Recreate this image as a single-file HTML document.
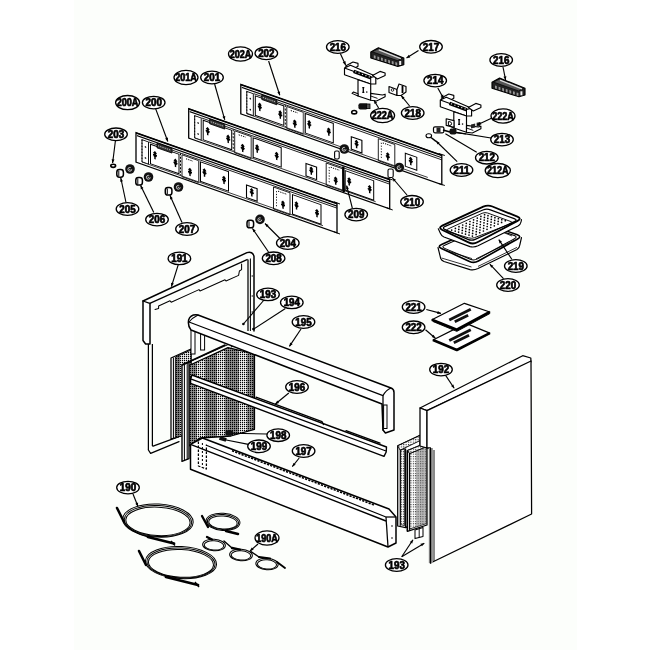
<!DOCTYPE html>
<html><head><meta charset="utf-8"><title>Parts diagram</title>
<style>
html,body{margin:0;padding:0;background:#fff;}
svg{display:block}
.gs{filter:grayscale(1)}
.lb{font-family:"Liberation Sans",sans-serif;font-weight:bold;font-size:10.4px;fill:#000;stroke:#000;stroke-width:0.7px;stroke-linejoin:round;}
.t{font-family:"Liberation Sans",sans-serif;fill:#000;}
</style></head><body>
<svg width="650" height="650" viewBox="0 0 650 650">
<defs>
<pattern id="mesh" width="2" height="2" patternUnits="userSpaceOnUse"><rect width="2" height="2" fill="#fff"/><rect width="1.2" height="1.25" fill="#000"/></pattern>
<pattern id="mesh2" width="2.4" height="2.4" patternUnits="userSpaceOnUse"><rect width="2.4" height="2.4" fill="#fff"/><rect width="1.1" height="1.1" fill="#222"/></pattern>
<pattern id="dots" width="3.6" height="2.7" patternUnits="userSpaceOnUse" patternTransform="rotate(-25) skewX(-40)"><rect width="3.6" height="2.7" fill="#fff"/><rect x="1" y="0.8" width="1.5" height="1.3" fill="#000"/></pattern>
<clipPath id="meshclip"><polygon points="189,365.5 228,347.6 254.4,354 254.4,429.4 231,436 200,438 189,446"/></clipPath>
</defs>
<rect width="650" height="650" fill="#fff"/><rect x="74" y="0" width="503" height="650" fill="#fcfefb"/>
<g transform="matrix(1,0.352,0,1,240.8,84.3)">
<rect x="0" y="0" width="201" height="29.5" fill="#fff" stroke="#000" stroke-width="1.3"/>
<line x1="0" y1="0.4" x2="201" y2="0.4" stroke="#000" stroke-width="1.4"/>
<line x1="1" y1="2.7" x2="201" y2="2.7" stroke="#000" stroke-width="1.2"/>
<line x1="13" y1="4.8" x2="201" y2="4.8" stroke="#000" stroke-width="0.8"/>
<line x1="6" y1="27.3" x2="187" y2="27.3" stroke="#000" stroke-width="0.7"/>
<rect x="6" y="5" width="6.5" height="22" fill="#fff" stroke="#000" stroke-width="0.9"/>
<line x1="6" y1="5" x2="6" y2="27" stroke="#000" stroke-width="0.9" stroke-dasharray="1.5,1.5"/>
<circle cx="9.5" cy="11" r="0.8" fill="#000"/><circle cx="9.5" cy="22" r="0.8" fill="#000"/>
<rect x="14.5" y="6.5" width="28.5" height="19.5" fill="none" stroke="#000" stroke-width="1"/>
<rect x="21" y="3.2" width="15" height="4.6" fill="#333" stroke="#000" stroke-width="0.8"/>
<line x1="22" y1="5.4" x2="35" y2="5.4" stroke="#bbb" stroke-width="1" stroke-dasharray="1.2,1"/>
<path d="M19,13.0 V20.0 M17,16.0 H21 M17.6,14.3 L19,12.7 L20.4,14.3" stroke="#000" stroke-width="1.45" fill="none"/>
<rect x="17.7" y="14.8" width="2.6" height="2.8" fill="#000"/>
<path d="M39.5,13.5 V20.5 M37.5,16.5 H41.5 M38.1,14.8 L39.5,13.2 L40.9,14.8" stroke="#000" stroke-width="1.45" fill="none"/>
<rect x="38.2" y="15.3" width="2.6" height="2.8" fill="#000"/>
<line x1="44.5" y1="5" x2="44.5" y2="27" stroke="#000" stroke-width="1" stroke-dasharray="2,1.5"/>
<rect x="46" y="6" width="16.5" height="22" fill="none" stroke="#000" stroke-width="0.8"/>
<line x1="50" y1="8.6" x2="57" y2="8.6" stroke="#000" stroke-width="1" stroke-dasharray="1.2,1"/>
<path d="M54,17.5 V24.5 M52,20.5 H56 M52.6,18.8 L54,17.2 L55.4,18.8" stroke="#000" stroke-width="1.45" fill="none"/>
<rect x="52.7" y="19.3" width="2.6" height="2.8" fill="#000"/>
<line x1="63" y1="5" x2="63" y2="28" stroke="#777" stroke-width="1.2"/>
<rect x="64.5" y="6.5" width="28" height="19.5" fill="none" stroke="#000" stroke-width="1"/>
<path d="M68.5,13.0 V20.0 M66.5,16.0 H70.5 M67.1,14.3 L68.5,12.7 L69.9,14.3" stroke="#000" stroke-width="1.45" fill="none"/>
<rect x="67.2" y="14.8" width="2.6" height="2.8" fill="#000"/>
<path d="M88,13.5 V20.5 M86,16.5 H90 M86.6,14.8 L88,13.2 L89.4,14.8" stroke="#000" stroke-width="1.45" fill="none"/>
<rect x="86.7" y="15.3" width="2.6" height="2.8" fill="#000"/>
<rect x="110.5" y="13.5" width="10.6" height="12.5" fill="none" stroke="#000" stroke-width="1.1"/>
<path d="M115.8,16.1 V23.1 M113.8,19.1 H117.8 M114.39999999999999,17.400000000000002 L115.8,15.8 L117.2,17.400000000000002" stroke="#000" stroke-width="1.45" fill="none"/>
<rect x="114.5" y="17.900000000000002" width="2.6" height="2.8" fill="#000"/>
<rect x="137.5" y="6" width="16.5" height="22" fill="none" stroke="#000" stroke-width="0.8"/>
<line x1="140.5" y1="9" x2="140.5" y2="25" stroke="#000" stroke-width="0.9" stroke-dasharray="1.2,1.6"/>
<line x1="142" y1="8.6" x2="151" y2="8.6" stroke="#000" stroke-width="1" stroke-dasharray="1.2,1"/>
<path d="M147,17.5 V24.5 M145,20.5 H149 M145.6,18.8 L147,17.2 L148.4,18.8" stroke="#000" stroke-width="1.45" fill="none"/>
<rect x="145.7" y="19.3" width="2.6" height="2.8" fill="#000"/>
<rect x="164.5" y="11" width="11.5" height="13" fill="none" stroke="#000" stroke-width="1"/>
<path d="M170,14.0 V21.0 M168,17.0 H172 M168.6,15.3 L170,13.7 L171.4,15.3" stroke="#000" stroke-width="1.45" fill="none"/>
<rect x="168.7" y="15.8" width="2.6" height="2.8" fill="#000"/>
<line x1="198" y1="-0.5" x2="204" y2="-0.5" stroke="#000" stroke-width="1"/>
<line x1="198" y1="29.5" x2="204" y2="29.5" stroke="#000" stroke-width="1"/>
</g>
<g transform="matrix(1,0.352,0,1,188.7,108.6)">
<rect x="0" y="0" width="201" height="29.5" fill="#fff" stroke="#000" stroke-width="1.3"/>
<line x1="0" y1="0.4" x2="201" y2="0.4" stroke="#000" stroke-width="1.4"/>
<line x1="1" y1="2.7" x2="201" y2="2.7" stroke="#000" stroke-width="1.2"/>
<line x1="13" y1="4.8" x2="201" y2="4.8" stroke="#000" stroke-width="0.8"/>
<line x1="6" y1="27.3" x2="187" y2="27.3" stroke="#000" stroke-width="0.7"/>
<rect x="6" y="5" width="6.5" height="22" fill="#fff" stroke="#000" stroke-width="0.9"/>
<line x1="6" y1="5" x2="6" y2="27" stroke="#000" stroke-width="0.9" stroke-dasharray="1.5,1.5"/>
<circle cx="9.5" cy="11" r="0.8" fill="#000"/><circle cx="9.5" cy="22" r="0.8" fill="#000"/>
<rect x="14.5" y="6.5" width="28.5" height="19.5" fill="none" stroke="#000" stroke-width="1"/>
<rect x="21" y="3.2" width="15" height="4.6" fill="#333" stroke="#000" stroke-width="0.8"/>
<line x1="22" y1="5.4" x2="35" y2="5.4" stroke="#bbb" stroke-width="1" stroke-dasharray="1.2,1"/>
<path d="M19,13.0 V20.0 M17,16.0 H21 M17.6,14.3 L19,12.7 L20.4,14.3" stroke="#000" stroke-width="1.45" fill="none"/>
<rect x="17.7" y="14.8" width="2.6" height="2.8" fill="#000"/>
<path d="M39.5,13.5 V20.5 M37.5,16.5 H41.5 M38.1,14.8 L39.5,13.2 L40.9,14.8" stroke="#000" stroke-width="1.45" fill="none"/>
<rect x="38.2" y="15.3" width="2.6" height="2.8" fill="#000"/>
<line x1="44.5" y1="5" x2="44.5" y2="27" stroke="#000" stroke-width="1" stroke-dasharray="2,1.5"/>
<rect x="46" y="6" width="16.5" height="22" fill="none" stroke="#000" stroke-width="0.8"/>
<line x1="50" y1="8.6" x2="57" y2="8.6" stroke="#000" stroke-width="1" stroke-dasharray="1.2,1"/>
<path d="M54,17.5 V24.5 M52,20.5 H56 M52.6,18.8 L54,17.2 L55.4,18.8" stroke="#000" stroke-width="1.45" fill="none"/>
<rect x="52.7" y="19.3" width="2.6" height="2.8" fill="#000"/>
<line x1="63" y1="5" x2="63" y2="28" stroke="#777" stroke-width="1.2"/>
<rect x="64.5" y="6.5" width="28" height="19.5" fill="none" stroke="#000" stroke-width="1"/>
<path d="M68.5,13.0 V20.0 M66.5,16.0 H70.5 M67.1,14.3 L68.5,12.7 L69.9,14.3" stroke="#000" stroke-width="1.45" fill="none"/>
<rect x="67.2" y="14.8" width="2.6" height="2.8" fill="#000"/>
<path d="M88,13.5 V20.5 M86,16.5 H90 M86.6,14.8 L88,13.2 L89.4,14.8" stroke="#000" stroke-width="1.45" fill="none"/>
<rect x="86.7" y="15.3" width="2.6" height="2.8" fill="#000"/>
<rect x="117.3" y="13.5" width="10.6" height="12.5" fill="none" stroke="#000" stroke-width="1.1"/>
<path d="M122.6,16.1 V23.1 M120.6,19.1 H124.6 M121.19999999999999,17.400000000000002 L122.6,15.8 L124.0,17.400000000000002" stroke="#000" stroke-width="1.45" fill="none"/>
<rect x="121.3" y="17.900000000000002" width="2.6" height="2.8" fill="#000"/>
<rect x="137.5" y="6" width="16.5" height="22" fill="none" stroke="#000" stroke-width="0.8"/>
<line x1="140.5" y1="9" x2="140.5" y2="25" stroke="#000" stroke-width="0.9" stroke-dasharray="1.2,1.6"/>
<line x1="142" y1="8.6" x2="151" y2="8.6" stroke="#000" stroke-width="1" stroke-dasharray="1.2,1"/>
<path d="M147,17.5 V24.5 M145,20.5 H149 M145.6,18.8 L147,17.2 L148.4,18.8" stroke="#000" stroke-width="1.45" fill="none"/>
<rect x="145.7" y="19.3" width="2.6" height="2.8" fill="#000"/>
<rect x="156.5" y="7" width="28.5" height="19.5" fill="none" stroke="#000" stroke-width="1"/>
<path d="M160.5,13.5 V20.5 M158.5,16.5 H162.5 M159.1,14.8 L160.5,13.2 L161.9,14.8" stroke="#000" stroke-width="1.45" fill="none"/>
<rect x="159.2" y="15.3" width="2.6" height="2.8" fill="#000"/>
<path d="M181,14.0 V21.0 M179,17.0 H183 M179.6,15.3 L181,13.7 L182.4,15.3" stroke="#000" stroke-width="1.45" fill="none"/>
<rect x="179.7" y="15.8" width="2.6" height="2.8" fill="#000"/>
<line x1="198" y1="-0.5" x2="204" y2="-0.5" stroke="#000" stroke-width="1"/>
<line x1="198" y1="29.5" x2="204" y2="29.5" stroke="#000" stroke-width="1"/>
</g>
<line x1="343.3" y1="166.5" x2="343.8" y2="192.0" stroke="#000" stroke-width="2.3" />
<g transform="matrix(1,0.352,0,1,136,132.6)">
<rect x="0" y="0" width="201" height="29.5" fill="#fff" stroke="#000" stroke-width="1.3"/>
<line x1="0" y1="0.4" x2="201" y2="0.4" stroke="#000" stroke-width="1.4"/>
<line x1="1" y1="2.7" x2="201" y2="2.7" stroke="#000" stroke-width="1.2"/>
<line x1="13" y1="4.8" x2="201" y2="4.8" stroke="#000" stroke-width="0.8"/>
<line x1="6" y1="27.3" x2="187" y2="27.3" stroke="#000" stroke-width="0.7"/>
<rect x="6" y="5" width="6.5" height="22" fill="#fff" stroke="#000" stroke-width="0.9"/>
<line x1="6" y1="5" x2="6" y2="27" stroke="#000" stroke-width="0.9" stroke-dasharray="1.5,1.5"/>
<circle cx="9.5" cy="11" r="0.8" fill="#000"/><circle cx="9.5" cy="22" r="0.8" fill="#000"/>
<rect x="14.5" y="6.5" width="28.5" height="19.5" fill="none" stroke="#000" stroke-width="1"/>
<rect x="21" y="3.2" width="15" height="4.6" fill="#333" stroke="#000" stroke-width="0.8"/>
<line x1="22" y1="5.4" x2="35" y2="5.4" stroke="#bbb" stroke-width="1" stroke-dasharray="1.2,1"/>
<path d="M19,13.0 V20.0 M17,16.0 H21 M17.6,14.3 L19,12.7 L20.4,14.3" stroke="#000" stroke-width="1.45" fill="none"/>
<rect x="17.7" y="14.8" width="2.6" height="2.8" fill="#000"/>
<path d="M39.5,13.5 V20.5 M37.5,16.5 H41.5 M38.1,14.8 L39.5,13.2 L40.9,14.8" stroke="#000" stroke-width="1.45" fill="none"/>
<rect x="38.2" y="15.3" width="2.6" height="2.8" fill="#000"/>
<line x1="44.5" y1="5" x2="44.5" y2="27" stroke="#000" stroke-width="1" stroke-dasharray="2,1.5"/>
<rect x="46" y="6" width="16.5" height="22" fill="none" stroke="#000" stroke-width="0.8"/>
<line x1="50" y1="8.6" x2="57" y2="8.6" stroke="#000" stroke-width="1" stroke-dasharray="1.2,1"/>
<path d="M54,17.5 V24.5 M52,20.5 H56 M52.6,18.8 L54,17.2 L55.4,18.8" stroke="#000" stroke-width="1.45" fill="none"/>
<rect x="52.7" y="19.3" width="2.6" height="2.8" fill="#000"/>
<line x1="63" y1="5" x2="63" y2="28" stroke="#777" stroke-width="1.2"/>
<rect x="64.5" y="6.5" width="28" height="19.5" fill="none" stroke="#000" stroke-width="1"/>
<path d="M68.5,13.0 V20.0 M66.5,16.0 H70.5 M67.1,14.3 L68.5,12.7 L69.9,14.3" stroke="#000" stroke-width="1.45" fill="none"/>
<rect x="67.2" y="14.8" width="2.6" height="2.8" fill="#000"/>
<path d="M88,13.5 V20.5 M86,16.5 H90 M86.6,14.8 L88,13.2 L89.4,14.8" stroke="#000" stroke-width="1.45" fill="none"/>
<rect x="86.7" y="15.3" width="2.6" height="2.8" fill="#000"/>
<rect x="110.5" y="13.5" width="10.6" height="12.5" fill="none" stroke="#000" stroke-width="1.1"/>
<path d="M115.8,16.1 V23.1 M113.8,19.1 H117.8 M114.39999999999999,17.400000000000002 L115.8,15.8 L117.2,17.400000000000002" stroke="#000" stroke-width="1.45" fill="none"/>
<rect x="114.5" y="17.900000000000002" width="2.6" height="2.8" fill="#000"/>
<rect x="137.5" y="6" width="16.5" height="22" fill="none" stroke="#000" stroke-width="0.8"/>
<line x1="140.5" y1="9" x2="140.5" y2="25" stroke="#000" stroke-width="0.9" stroke-dasharray="1.2,1.6"/>
<line x1="142" y1="8.6" x2="151" y2="8.6" stroke="#000" stroke-width="1" stroke-dasharray="1.2,1"/>
<path d="M147,17.5 V24.5 M145,20.5 H149 M145.6,18.8 L147,17.2 L148.4,18.8" stroke="#000" stroke-width="1.45" fill="none"/>
<rect x="145.7" y="19.3" width="2.6" height="2.8" fill="#000"/>
<rect x="156.5" y="7" width="28.5" height="19.5" fill="none" stroke="#000" stroke-width="1"/>
<path d="M160.5,13.5 V20.5 M158.5,16.5 H162.5 M159.1,14.8 L160.5,13.2 L161.9,14.8" stroke="#000" stroke-width="1.45" fill="none"/>
<rect x="159.2" y="15.3" width="2.6" height="2.8" fill="#000"/>
<path d="M181,14.0 V21.0 M179,17.0 H183 M179.6,15.3 L181,13.7 L182.4,15.3" stroke="#000" stroke-width="1.45" fill="none"/>
<rect x="179.7" y="15.8" width="2.6" height="2.8" fill="#000"/>
<line x1="198" y1="-0.5" x2="204" y2="-0.5" stroke="#000" stroke-width="1"/>
<line x1="198" y1="29.5" x2="204" y2="29.5" stroke="#000" stroke-width="1"/>
</g>
<circle cx="344.3" cy="149" r="4.8" fill="#111"/>
<circle cx="344.1" cy="149.3" r="1.9" fill="none" stroke="#ddd" stroke-width="0.9" stroke-dasharray="9 3"/>
<circle cx="344.1" cy="149.3" r="0.6" fill="#ddd"/>
<rect x="334.6" y="151" width="4.6" height="8" rx="1.5" fill="#fff" stroke="#000" stroke-width="1.1"/>
<circle cx="399.3" cy="167.5" r="4.8" fill="#111"/>
<circle cx="399.1" cy="167.8" r="1.9" fill="none" stroke="#ddd" stroke-width="0.9" stroke-dasharray="9 3"/>
<circle cx="399.1" cy="167.8" r="0.6" fill="#ddd"/>
<rect x="388" y="169" width="5.2" height="8.5" rx="1.5" fill="#fff" stroke="#000" stroke-width="1.1"/>
<line x1="352.4" y1="208.4" x2="346.6" y2="185.6" stroke="#000" stroke-width="1.15" />
<polygon points="346.6,185.6 348.9,188.7 346.0,189.5" fill="#000"/>
<line x1="407.0" y1="195.0" x2="392.5" y2="178.0" stroke="#000" stroke-width="1.15" />
<polygon points="392.5,178.0 396.0,179.8 393.7,181.7" fill="#000"/>
<circle cx="130" cy="169" r="4.8" fill="#111"/>
<circle cx="129.8" cy="169.3" r="1.9" fill="none" stroke="#ddd" stroke-width="0.9" stroke-dasharray="9 3"/>
<circle cx="129.8" cy="169.3" r="0.6" fill="#ddd"/>
<rect x="116.8" y="169.6" width="6.6" height="7.6" rx="2.6" fill="#fff" stroke="#000" stroke-width="1.5"/>
<line x1="118.8" y1="170.7" x2="118.8" y2="176.2" stroke="#000" stroke-width="1"/>
<circle cx="148.5" cy="177" r="4.8" fill="#111"/>
<circle cx="148.3" cy="177.3" r="1.9" fill="none" stroke="#ddd" stroke-width="0.9" stroke-dasharray="9 3"/>
<circle cx="148.3" cy="177.3" r="0.6" fill="#ddd"/>
<rect x="135.8" y="177.4" width="6.6" height="7.6" rx="2.6" fill="#fff" stroke="#000" stroke-width="1.5"/>
<line x1="137.8" y1="178.5" x2="137.8" y2="184" stroke="#000" stroke-width="1"/>
<circle cx="178.5" cy="187" r="4.8" fill="#111"/>
<circle cx="178.3" cy="187.3" r="1.9" fill="none" stroke="#ddd" stroke-width="0.9" stroke-dasharray="9 3"/>
<circle cx="178.3" cy="187.3" r="0.6" fill="#ddd"/>
<rect x="165.3" y="187.4" width="6.6" height="7.6" rx="2.6" fill="#fff" stroke="#000" stroke-width="1.5"/>
<line x1="167.3" y1="188.5" x2="167.3" y2="194" stroke="#000" stroke-width="1"/>
<circle cx="260" cy="219.4" r="4.8" fill="#111"/>
<circle cx="259.8" cy="219.70000000000002" r="1.9" fill="none" stroke="#ddd" stroke-width="0.9" stroke-dasharray="9 3"/>
<circle cx="259.8" cy="219.70000000000002" r="0.6" fill="#ddd"/>
<rect x="247.0" y="220.20000000000002" width="6.6" height="7.6" rx="2.6" fill="#fff" stroke="#000" stroke-width="1.5"/>
<line x1="249.0" y1="221.3" x2="249.0" y2="226.8" stroke="#000" stroke-width="1"/>
<ellipse cx="113.2" cy="165.8" rx="2.4" ry="1.6" fill="#fff" stroke="#000" stroke-width="1.6"/>
<line x1="115.4" y1="141.0" x2="112.6" y2="163.0" stroke="#000" stroke-width="1.15" />
<polygon points="112.6,163.0 111.6,159.2 114.5,159.6" fill="#000"/>
<line x1="126.0" y1="202.5" x2="120.8" y2="178.0" stroke="#000" stroke-width="1.15" />
<polygon points="120.8,178.0 123.0,181.2 120.1,181.8" fill="#000"/>
<line x1="153.8" y1="212.5" x2="140.6" y2="185.5" stroke="#000" stroke-width="1.15" />
<polygon points="140.6,185.5 143.5,188.1 140.8,189.4" fill="#000"/>
<line x1="182.0" y1="222.5" x2="170.0" y2="195.5" stroke="#000" stroke-width="1.15" />
<polygon points="170.0,195.5 172.8,198.2 170.1,199.4" fill="#000"/>
<line x1="280.0" y1="238.5" x2="265.0" y2="223.5" stroke="#000" stroke-width="1.15" />
<polygon points="265.0,223.5 268.6,225.0 266.5,227.1" fill="#000"/>
<line x1="268.5" y1="252.0" x2="252.5" y2="228.5" stroke="#000" stroke-width="1.15" />
<polygon points="252.5,228.5 255.8,230.6 253.3,232.3" fill="#000"/>
<line x1="155.6" y1="108.6" x2="167.8" y2="141.5" stroke="#000" stroke-width="1.15" />
<polygon points="167.8,141.5 165.1,138.6 168.0,137.6" fill="#000"/>
<line x1="214.6" y1="84.0" x2="224.8" y2="119.8" stroke="#000" stroke-width="1.15" />
<polygon points="224.8,119.8 222.4,116.7 225.3,115.9" fill="#000"/>
<line x1="268.6" y1="61.0" x2="279.8" y2="95.3" stroke="#000" stroke-width="1.15" />
<polygon points="279.8,95.3 277.3,92.3 280.1,91.4" fill="#000"/>
<polygon points="370.8,52.0 378.4,47.8 403.8,58.0 403.8,64.7 397.8,66.4 370.8,58.0" fill="#222" stroke="#000" stroke-width="1.15" stroke-linejoin="round" />
<polygon points="372.3,51.8 378.6,48.6 402.3,58.2 397.3,60.6" fill="#555" stroke="#000" stroke-width="0.69" stroke-linejoin="round" />
<rect x="373.8" y="55.2" width="1.8" height="3" fill="#999" transform="skewY(18)" style="transform-box:fill-box"/>
<rect x="377.4" y="56.4" width="1.8" height="3" fill="#999" transform="skewY(18)" style="transform-box:fill-box"/>
<rect x="381.0" y="57.5" width="1.8" height="3" fill="#999" transform="skewY(18)" style="transform-box:fill-box"/>
<rect x="384.6" y="58.7" width="1.8" height="3" fill="#999" transform="skewY(18)" style="transform-box:fill-box"/>
<rect x="388.2" y="59.8" width="1.8" height="3" fill="#999" transform="skewY(18)" style="transform-box:fill-box"/>
<rect x="391.8" y="61.0" width="1.8" height="3" fill="#999" transform="skewY(18)" style="transform-box:fill-box"/>
<rect x="395.4" y="62.1" width="1.8" height="3" fill="#999" transform="skewY(18)" style="transform-box:fill-box"/>
<line x1="378.8" y1="49.8" x2="400.8" y2="58.6" stroke="#ddd" stroke-width="1.26" />
<rect x="399.2" y="61" width="2" height="4" fill="#eee"/>
<polygon points="492.0,82.3 499.6,78.1 525.0,88.3 525.0,95.0 519.0,96.7 492.0,88.3" fill="#222" stroke="#000" stroke-width="1.15" stroke-linejoin="round" />
<polygon points="493.5,82.1 499.8,78.9 523.5,88.5 518.5,90.9" fill="#555" stroke="#000" stroke-width="0.69" stroke-linejoin="round" />
<rect x="495.0" y="85.5" width="1.8" height="3" fill="#999" transform="skewY(18)" style="transform-box:fill-box"/>
<rect x="498.6" y="86.7" width="1.8" height="3" fill="#999" transform="skewY(18)" style="transform-box:fill-box"/>
<rect x="502.2" y="87.8" width="1.8" height="3" fill="#999" transform="skewY(18)" style="transform-box:fill-box"/>
<rect x="505.8" y="89.0" width="1.8" height="3" fill="#999" transform="skewY(18)" style="transform-box:fill-box"/>
<rect x="509.4" y="90.1" width="1.8" height="3" fill="#999" transform="skewY(18)" style="transform-box:fill-box"/>
<rect x="513.0" y="91.2" width="1.8" height="3" fill="#999" transform="skewY(18)" style="transform-box:fill-box"/>
<rect x="516.6" y="92.4" width="1.8" height="3" fill="#999" transform="skewY(18)" style="transform-box:fill-box"/>
<line x1="500.0" y1="80.1" x2="522.0" y2="88.9" stroke="#ddd" stroke-width="1.26" />
<rect x="520.4" y="91.3" width="2" height="4" fill="#eee"/>
<polygon points="345.5,66.0 353.0,62.0 358.0,63.4 358.0,66.2 351.5,69.8" fill="#fff" stroke="#000" stroke-width="1.15" stroke-linejoin="round" />
<polygon points="344.5,68.0 350.5,65.2 375.8,76.2 375.8,84.0 370.7,84.0 344.5,74.8" fill="#fff" stroke="#000" stroke-width="1.15" stroke-linejoin="round" />
<line x1="344.5" y1="68.0" x2="370.7" y2="77.6" stroke="#000" stroke-width="1.03" />
<line x1="370.7" y1="77.6" x2="375.8" y2="76.2" stroke="#000" stroke-width="1.03" />
<line x1="370.7" y1="77.6" x2="370.7" y2="84.0" stroke="#000" stroke-width="1.03" />
<polygon points="372.5,75.6 380.0,71.4 385.1,73.0 385.1,75.6 377.5,79.0" fill="#fff" stroke="#000" stroke-width="1.15" stroke-linejoin="round" />
<line x1="353.7" y1="71.4" x2="371.1" y2="77.8" stroke="#000" stroke-width="3.45" />
<rect x="355.1" y="71.4" width="1.2" height="1" fill="#fff"/>
<rect x="358.5" y="72.7" width="1.2" height="1" fill="#fff"/>
<rect x="361.9" y="73.9" width="1.2" height="1" fill="#fff"/>
<rect x="365.3" y="75.2" width="1.2" height="1" fill="#fff"/>
<rect x="368.7" y="76.4" width="1.2" height="1" fill="#fff"/>
<polygon points="358.0,79.8 358.0,96.0 370.7,100.2 370.7,84.0" fill="#fff" stroke="#000" stroke-width="1.15" stroke-linejoin="round" />
<path d="M363.3,87.6 v4.8 M362.3,87.6 h2 M362.3,92.4 h2" stroke="#000" stroke-width="1.3" fill="none"/>
<rect x="366.1" y="91.4" width="1.3" height="1.3" fill="#000"/>
<polygon points="358.0,93.8 353.5,92.0 352.0,93.4 358.0,96.0" fill="#fff" stroke="#000" stroke-width="1.03" stroke-linejoin="round" />
<polygon points="370.7,93.4 382.5,95.0 385.1,94.2 385.1,96.8 376.5,101.0 370.7,100.2" fill="#fff" stroke="#000" stroke-width="1.15" stroke-linejoin="round" />
<line x1="370.7" y1="96.0" x2="377.5" y2="98.4" stroke="#000" stroke-width="0.92" />
<polygon points="441.3,98.0 448.8,94.0 453.8,95.4 453.8,98.2 447.3,101.8" fill="#fff" stroke="#000" stroke-width="1.15" stroke-linejoin="round" />
<polygon points="440.3,100.0 446.3,97.2 471.6,108.2 471.6,116.0 466.5,116.0 440.3,106.8" fill="#fff" stroke="#000" stroke-width="1.15" stroke-linejoin="round" />
<line x1="440.3" y1="100.0" x2="466.5" y2="109.6" stroke="#000" stroke-width="1.03" />
<line x1="466.5" y1="109.6" x2="471.6" y2="108.2" stroke="#000" stroke-width="1.03" />
<line x1="466.5" y1="109.6" x2="466.5" y2="116.0" stroke="#000" stroke-width="1.03" />
<polygon points="468.3,107.6 475.8,103.4 480.9,105.0 480.9,107.6 473.3,111.0" fill="#fff" stroke="#000" stroke-width="1.15" stroke-linejoin="round" />
<line x1="449.5" y1="103.4" x2="466.9" y2="109.8" stroke="#000" stroke-width="3.45" />
<rect x="450.9" y="103.4" width="1.2" height="1" fill="#fff"/>
<rect x="454.3" y="104.7" width="1.2" height="1" fill="#fff"/>
<rect x="457.7" y="105.9" width="1.2" height="1" fill="#fff"/>
<rect x="461.1" y="107.2" width="1.2" height="1" fill="#fff"/>
<rect x="464.5" y="108.4" width="1.2" height="1" fill="#fff"/>
<polygon points="453.8,111.8 453.8,128.0 466.5,132.2 466.5,116.0" fill="#fff" stroke="#000" stroke-width="1.15" stroke-linejoin="round" />
<path d="M459.1,119.6 v4.8 M458.1,119.6 h2 M458.1,124.4 h2" stroke="#000" stroke-width="1.3" fill="none"/>
<rect x="461.90000000000003" y="123.4" width="1.3" height="1.3" fill="#000"/>
<polygon points="453.8,125.8 449.3,124.0 447.8,125.4 453.8,128.0" fill="#fff" stroke="#000" stroke-width="1.03" stroke-linejoin="round" />
<polygon points="466.5,125.4 478.3,127.0 480.9,126.2 480.9,128.8 472.3,133.0 466.5,132.2" fill="#fff" stroke="#000" stroke-width="1.15" stroke-linejoin="round" />
<line x1="466.5" y1="128.0" x2="473.3" y2="130.4" stroke="#000" stroke-width="0.92" />
<polygon points="389.0,86.5 397.0,89.5 397.0,95.5 389.0,92.5" fill="#fff" stroke="#000" stroke-width="1.15" stroke-linejoin="round" />
<polygon points="397.0,89.5 399.0,84.0 406.0,86.5 406.0,92.0 401.0,95.5 397.0,95.5" fill="#fff" stroke="#000" stroke-width="1.15" stroke-linejoin="round" />
<circle cx="392.5" cy="90" r="1.3" fill="none" stroke="#000" stroke-width="0.8"/>
<line x1="402.5" y1="85.5" x2="402.5" y2="93.0" stroke="#000" stroke-width="1.84" />
<rect x="358.4" y="103.2" width="9.4" height="6.4" rx="2" fill="#111"/>
<rect x="366.5" y="104" width="3.5" height="4.6" fill="#555" stroke="#000" stroke-width="0.8"/>
<ellipse cx="354.2" cy="112.2" rx="2.5" ry="1.7" fill="#fff" stroke="#000" stroke-width="1.6"/>
<polygon points="446.2,118.7 454.0,120.6 454.0,127.2 446.2,125.4" fill="#fff" stroke="#000" stroke-width="1.15" stroke-linejoin="round" />
<path d="M448.4,121.6 v3.8 h1.6 q1.6,-0.2 1.6,-1.7 q0,-1.6 -1.6,-1.9 z" stroke="#000" stroke-width="1" fill="none"/>
<rect x="433.5" y="126.8" width="10.4" height="6" rx="1.5" fill="#fff" stroke="#000" stroke-width="1.2"/>
<rect x="436.5" y="127.5" width="4" height="4.6" fill="#222"/>
<rect x="449.5" y="128.6" width="7" height="6" rx="2" fill="#111"/>
<line x1="443.0" y1="130.0" x2="450.0" y2="132.0" stroke="#000" stroke-width="1.61" />
<line x1="456.0" y1="132.6" x2="466.0" y2="134.0" stroke="#000" stroke-width="1.15" />
<rect x="471" y="124.5" width="4.2" height="4" fill="#222" transform="skewY(-14)" style="transform-box:fill-box"/>
<rect x="476.6" y="122.8" width="3.6" height="4" fill="#222" transform="skewY(-14)" style="transform-box:fill-box"/>
<ellipse cx="428.8" cy="135.8" rx="2.8" ry="2" fill="#fff" stroke="#000" stroke-width="1.1"/>
<line x1="431.0" y1="137.5" x2="436.0" y2="141.4" stroke="#000" stroke-width="1.49" />
<line x1="340.3" y1="53.5" x2="345.6" y2="65.0" stroke="#000" stroke-width="1.15" />
<polygon points="345.6,65.0 342.7,62.4 345.5,61.1" fill="#000"/>
<line x1="418.5" y1="50.5" x2="406.5" y2="58.0" stroke="#000" stroke-width="1.15" />
<polygon points="406.5,58.0 408.8,54.8 410.3,57.4" fill="#000"/>
<line x1="378.6" y1="108.0" x2="374.0" y2="100.2" stroke="#000" stroke-width="1.15" />
<polygon points="374.0,100.2 377.1,102.5 374.5,104.1" fill="#000"/>
<line x1="409.6" y1="106.0" x2="401.2" y2="95.6" stroke="#000" stroke-width="1.15" />
<polygon points="401.2,95.6 404.6,97.5 402.3,99.3" fill="#000"/>
<line x1="437.8" y1="88.0" x2="443.6" y2="98.5" stroke="#000" stroke-width="1.15" />
<polygon points="443.6,98.5 440.5,96.1 443.2,94.6" fill="#000"/>
<line x1="503.0" y1="67.0" x2="505.6" y2="80.0" stroke="#000" stroke-width="1.15" />
<polygon points="505.6,80.0 503.4,76.8 506.4,76.2" fill="#000"/>
<line x1="492.0" y1="118.0" x2="477.5" y2="124.8" stroke="#000" stroke-width="1.15" />
<polygon points="477.5,124.8 480.1,121.9 481.4,124.6" fill="#000"/>
<line x1="491.0" y1="138.0" x2="456.5" y2="132.4" stroke="#000" stroke-width="1.15" />
<line x1="476.7" y1="152.3" x2="445.4" y2="133.8" stroke="#000" stroke-width="1.15" />
<line x1="457.2" y1="161.6" x2="436.0" y2="141.0" stroke="#000" stroke-width="1.15" />
<polygon points="436.0,141.0 439.6,142.4 437.5,144.6" fill="#000"/>
<path d="M438,247.5 L440.7,258.5 Q441.5,260.5 444,261.5 L470,269.6 Q474,270.4 478,268.6 L517,249.5 Q519.5,248 519.8,245 L521.5,237.5" fill="#fff" stroke="#000" stroke-width="1.15" stroke-linejoin="round" stroke-linecap="round" />
<line x1="441.5" y1="258.0" x2="471.5" y2="267.0" stroke="#000" stroke-width="0.8" />
<line x1="478.0" y1="266.4" x2="517.0" y2="247.4" stroke="#000" stroke-width="0.8" />
<path d="M441.5,248.6 Q437.0,246.5 441.6,244.4 L482.4,226.1 Q487.0,224.0 491.7,225.7 L517.3,234.8 Q522.0,236.5 517.6,239.0 L478.4,261.0 Q474.0,263.5 469.5,261.4 Z" fill="#fff" stroke="#000" stroke-width="1.61" stroke-linejoin="round" stroke-linecap="round" />
<path d="M444.7,248.4 Q441.0,246.8 444.7,245.2 L483.3,227.9 Q487.0,226.3 490.8,227.6 L514.2,235.5 Q518.0,236.8 514.5,238.7 L477.5,258.9 Q474.0,260.8 470.3,259.2 Z" fill="none" stroke="#000" stroke-width="1.03" stroke-linejoin="round" stroke-linecap="round" />
<line x1="446.0" y1="250.5" x2="472.0" y2="258.6" stroke="#000" stroke-width="0.8" />
<line x1="476.0" y1="258.8" x2="514.0" y2="240.5" stroke="#000" stroke-width="0.8" />
<line x1="500.0" y1="231.0" x2="512.0" y2="236.0" stroke="#000" stroke-width="0.8" />
<path d="M438.3,228.8 L440.5,233.5 Q441.5,236 444,237 L470,246.6 Q474,247.6 478,245.8 L518,226 Q520.5,224.6 521,222 L521.5,219.6" fill="#fff" stroke="#000" stroke-width="1.15" stroke-linejoin="round" stroke-linecap="round" />
<path d="M442.3,230.0 Q437.8,227.8 442.3,225.7 L483.3,206.7 Q487.8,204.6 492.4,206.5 L517.4,216.7 Q522.0,218.6 517.6,220.9 L477.4,242.3 Q473.0,244.6 468.5,242.4 Z" fill="#fff" stroke="#000" stroke-width="1.84" stroke-linejoin="round" stroke-linecap="round" />
<path d="M445.2,229.6 Q441.5,228.0 445.2,226.4 L482.9,210.0 Q486.6,208.4 490.4,209.8 L514.2,218.6 Q518.0,220.0 514.4,221.6 L475.2,239.4 Q471.6,241.0 467.9,239.4 Z" fill="#fff" stroke="#000" stroke-width="1.26" stroke-linejoin="round" stroke-linecap="round" />
<path d="M447.5,231.5 Q444.6,230.6 447.3,229.3 L482.1,213.3 Q484.8,212.0 487.6,213.0 L511.0,221.6 Q513.8,222.6 511.0,223.7 L474.4,237.7 Q471.6,238.8 468.7,237.9 Z" fill="none" stroke="#000" stroke-width="0.92" stroke-linejoin="round" stroke-linecap="round" />
<circle cx="451.7" cy="230.1" r="0.85" fill="#000"/>
<circle cx="455.2" cy="231.1" r="0.85" fill="#000"/>
<circle cx="458.6" cy="232.1" r="0.85" fill="#000"/>
<circle cx="462.1" cy="233.1" r="0.85" fill="#000"/>
<circle cx="465.5" cy="234.1" r="0.85" fill="#000"/>
<circle cx="469.0" cy="235.1" r="0.85" fill="#000"/>
<circle cx="472.4" cy="236.1" r="0.85" fill="#000"/>
<circle cx="455.4" cy="228.4" r="0.85" fill="#000"/>
<circle cx="458.8" cy="229.4" r="0.85" fill="#000"/>
<circle cx="462.3" cy="230.4" r="0.85" fill="#000"/>
<circle cx="465.7" cy="231.4" r="0.85" fill="#000"/>
<circle cx="469.2" cy="232.4" r="0.85" fill="#000"/>
<circle cx="472.6" cy="233.4" r="0.85" fill="#000"/>
<circle cx="476.1" cy="234.4" r="0.85" fill="#000"/>
<circle cx="459.0" cy="226.7" r="0.85" fill="#000"/>
<circle cx="462.5" cy="227.7" r="0.85" fill="#000"/>
<circle cx="465.9" cy="228.7" r="0.85" fill="#000"/>
<circle cx="469.4" cy="229.7" r="0.85" fill="#000"/>
<circle cx="472.8" cy="230.7" r="0.85" fill="#000"/>
<circle cx="476.3" cy="231.7" r="0.85" fill="#000"/>
<circle cx="479.7" cy="232.7" r="0.85" fill="#000"/>
<circle cx="462.7" cy="225.0" r="0.85" fill="#000"/>
<circle cx="466.1" cy="226.0" r="0.85" fill="#000"/>
<circle cx="469.6" cy="227.0" r="0.85" fill="#000"/>
<circle cx="473.0" cy="228.0" r="0.85" fill="#000"/>
<circle cx="476.5" cy="229.0" r="0.85" fill="#000"/>
<circle cx="479.9" cy="230.0" r="0.85" fill="#000"/>
<circle cx="483.4" cy="231.0" r="0.85" fill="#000"/>
<circle cx="466.3" cy="223.3" r="0.85" fill="#000"/>
<circle cx="469.8" cy="224.3" r="0.85" fill="#000"/>
<circle cx="473.2" cy="225.3" r="0.85" fill="#000"/>
<circle cx="476.7" cy="226.3" r="0.85" fill="#000"/>
<circle cx="480.1" cy="227.3" r="0.85" fill="#000"/>
<circle cx="483.6" cy="228.3" r="0.85" fill="#000"/>
<circle cx="487.0" cy="229.3" r="0.85" fill="#000"/>
<circle cx="470.0" cy="221.5" r="0.85" fill="#000"/>
<circle cx="473.4" cy="222.5" r="0.85" fill="#000"/>
<circle cx="476.9" cy="223.5" r="0.85" fill="#000"/>
<circle cx="480.3" cy="224.5" r="0.85" fill="#000"/>
<circle cx="483.8" cy="225.5" r="0.85" fill="#000"/>
<circle cx="487.2" cy="226.5" r="0.85" fill="#000"/>
<circle cx="490.7" cy="227.5" r="0.85" fill="#000"/>
<circle cx="473.6" cy="219.8" r="0.85" fill="#000"/>
<circle cx="477.1" cy="220.8" r="0.85" fill="#000"/>
<circle cx="480.5" cy="221.8" r="0.85" fill="#000"/>
<circle cx="484.0" cy="222.8" r="0.85" fill="#000"/>
<circle cx="487.4" cy="223.8" r="0.85" fill="#000"/>
<circle cx="490.9" cy="224.8" r="0.85" fill="#000"/>
<circle cx="494.3" cy="225.8" r="0.85" fill="#000"/>
<circle cx="477.3" cy="218.1" r="0.85" fill="#000"/>
<circle cx="480.7" cy="219.1" r="0.85" fill="#000"/>
<circle cx="484.2" cy="220.1" r="0.85" fill="#000"/>
<circle cx="487.6" cy="221.1" r="0.85" fill="#000"/>
<circle cx="491.1" cy="222.1" r="0.85" fill="#000"/>
<circle cx="494.5" cy="223.1" r="0.85" fill="#000"/>
<circle cx="498.0" cy="224.1" r="0.85" fill="#000"/>
<circle cx="480.9" cy="216.4" r="0.85" fill="#000"/>
<circle cx="484.4" cy="217.4" r="0.85" fill="#000"/>
<circle cx="487.8" cy="218.4" r="0.85" fill="#000"/>
<circle cx="491.3" cy="219.4" r="0.85" fill="#000"/>
<circle cx="494.7" cy="220.4" r="0.85" fill="#000"/>
<circle cx="498.2" cy="221.4" r="0.85" fill="#000"/>
<circle cx="501.6" cy="222.4" r="0.85" fill="#000"/>
<circle cx="484.6" cy="214.7" r="0.85" fill="#000"/>
<circle cx="488.0" cy="215.7" r="0.85" fill="#000"/>
<circle cx="491.5" cy="216.7" r="0.85" fill="#000"/>
<circle cx="494.9" cy="217.7" r="0.85" fill="#000"/>
<circle cx="498.4" cy="218.7" r="0.85" fill="#000"/>
<circle cx="501.8" cy="219.7" r="0.85" fill="#000"/>
<circle cx="505.3" cy="220.7" r="0.85" fill="#000"/>
<line x1="511.8" y1="259.2" x2="498.8" y2="239.6" stroke="#000" stroke-width="1.15" />
<polygon points="498.8,239.6 502.0,241.8 499.5,243.4" fill="#000"/>
<line x1="503.5" y1="278.6" x2="489.8" y2="264.2" stroke="#000" stroke-width="1.15" />
<polygon points="489.8,264.2 493.4,265.8 491.2,267.8" fill="#000"/>
<polygon points="433.0,340.0 466.0,323.4 489.8,333.2 456.8,350.0" fill="#fff" stroke="#000" stroke-width="1.26" stroke-linejoin="round" />
<polyline points="433.0,340.0 456.8,350.0 489.8,333.2" fill="none" stroke="#000" stroke-width="2.53" stroke-linejoin="round" />
<g transform="translate(461,337) rotate(-26.5)"><rect x="-12" y="-3.6" width="24" height="2.8" fill="#111"/><rect x="-9" y="0.6" width="17" height="2.8" fill="#111"/></g>
<polygon points="431.9,319.7 464.4,303.3 489.8,312.0 456.8,329.8" fill="#fff" stroke="#000" stroke-width="1.26" stroke-linejoin="round" />
<polyline points="431.9,319.7 456.8,329.8 489.8,312.0" fill="none" stroke="#000" stroke-width="2.76" stroke-linejoin="round" />
<line x1="433.0" y1="321.5" x2="456.8" y2="331.4" stroke="#000" stroke-width="0.92" />
<line x1="456.8" y1="331.4" x2="489.8" y2="313.6" stroke="#000" stroke-width="0.92" />
<g transform="translate(461,316.5) rotate(-26.5)"><rect x="-12" y="-3.6" width="24" height="2.8" fill="#111"/><rect x="-8" y="0.6" width="15" height="2.8" fill="#111"/></g>
<line x1="426.3" y1="309.5" x2="441.0" y2="313.4" stroke="#000" stroke-width="1.15" />
<polygon points="441.0,313.4 437.1,313.9 437.9,311.0" fill="#000"/>
<line x1="425.5" y1="329.8" x2="435.4" y2="338.2" stroke="#000" stroke-width="1.15" />
<polygon points="435.4,338.2 431.7,337.0 433.6,334.7" fill="#000"/>
<path d="M143,301 L247,252.6 Q252.6,251 254,256.4 L254,331" fill="none" stroke="#000" stroke-width="1.49" stroke-linejoin="round" stroke-linecap="round" />
<path d="M143,301 L143,340.5 L145.6,344 L150,344 L150,303.6" fill="#fff" stroke="#000" stroke-width="1.49" stroke-linejoin="round" stroke-linecap="round" />
<line x1="143.0" y1="301.0" x2="149.8" y2="303.4" stroke="#000" stroke-width="1.26" />
<line x1="149.8" y1="303.4" x2="247.6" y2="259.4" stroke="#000" stroke-width="1.26" />
<path d="M155,309.4 L158.6,308.6 L158.6,306 L170,300.8 L171.2,302.2 L199,289.6 L200,291 L225,279.8 L226,281 L238.6,275.4 L239.4,271 L241.6,269.6 L241.6,264" fill="none" stroke="#000" stroke-width="1.03" stroke-linejoin="round" stroke-linecap="round" />
<line x1="248.0" y1="259.4" x2="248.0" y2="331.0" stroke="#000" stroke-width="1.26" />
<line x1="250.4" y1="258.4" x2="250.4" y2="331.0" stroke="#000" stroke-width="1.03" />
<line x1="148.4" y1="344.0" x2="148.4" y2="450.0" stroke="#000" stroke-width="1.26" />
<line x1="152.4" y1="344.0" x2="152.4" y2="446.0" stroke="#000" stroke-width="1.26" />
<path d="M148.4,450 L150.6,453.4 L179,441.6" fill="none" stroke="#000" stroke-width="1.26" stroke-linejoin="round" stroke-linecap="round" />
<line x1="152.4" y1="446.4" x2="179.0" y2="436.6" stroke="#000" stroke-width="1.26" />
<circle cx="252.2" cy="276" r="0.7" fill="#000"/>
<circle cx="252.2" cy="296" r="0.7" fill="#000"/>
<circle cx="252.2" cy="312" r="0.7" fill="#000"/>
<polygon points="171.0,358.0 191.0,349.0 191.0,433.0 171.0,439.0" fill="#fff" stroke="#000" stroke-width="1.26" stroke-linejoin="round" />
<polygon points="175.4,357.0 191.0,350.0 191.0,433.0 175.4,437.8" fill="url(#mesh)" stroke="#000" stroke-width="0.92" stroke-linejoin="round" />
<polygon points="176.0,356.8 180.0,355.0 180.0,436.4 176.0,437.6" fill="#000" stroke="#000" stroke-width="0.0" stroke-linejoin="round" opacity="0.45"/>
<line x1="173.4" y1="357.4" x2="173.4" y2="438.4" stroke="#000" stroke-width="1.03" />
<polygon points="189.0,365.5 228.0,347.6 254.4,354.0 254.4,429.4 231.0,436.0 200.0,438.0 189.0,446.0" fill="url(#mesh)" stroke="#000" stroke-width="1.26" stroke-linejoin="round" />
<rect x="190" y="345" width="7" height="102" fill="#000" opacity="0.38" clip-path="url(#meshclip)"/>
<rect x="205" y="345" width="12" height="102" fill="#000" opacity="0.38" clip-path="url(#meshclip)"/>
<rect x="225" y="345" width="14" height="102" fill="#000" opacity="0.38" clip-path="url(#meshclip)"/>
<rect x="247" y="345" width="7" height="102" fill="#000" opacity="0.38" clip-path="url(#meshclip)"/>
<line x1="254.4" y1="354.0" x2="254.4" y2="429.4" stroke="#000" stroke-width="1.38" />
<polygon points="182.0,365.0 189.0,362.0 189.0,458.6 182.0,461.4" fill="#fff" stroke="#000" stroke-width="1.38" stroke-linejoin="round" />
<line x1="184.4" y1="364.2" x2="184.4" y2="460.4" stroke="#000" stroke-width="1.03" />
<line x1="187.2" y1="363.0" x2="187.2" y2="459.4" stroke="#000" stroke-width="1.03" />
<path d="M182,365 L225,345 " fill="none" stroke="#000" stroke-width="1.38" stroke-linejoin="round" stroke-linecap="round" />
<path d="M189,362 L228,344.6" fill="none" stroke="#000" stroke-width="1.03" stroke-linejoin="round" stroke-linecap="round" />
<rect x="191" y="326" width="4" height="28" fill="#fff" stroke="#000" stroke-width="1"/>
<rect x="200.6" y="326" width="4" height="24" fill="#fff" stroke="#000" stroke-width="1"/>
<line x1="228.5" y1="344.0" x2="252.0" y2="335.0" stroke="#000" stroke-width="1.15" />
<line x1="231.0" y1="347.0" x2="254.0" y2="338.5" stroke="#000" stroke-width="1.15" />
<line x1="240.0" y1="339.0" x2="240.0" y2="343.0" stroke="#000" stroke-width="1.15" />
<line x1="245.0" y1="337.0" x2="245.0" y2="341.0" stroke="#000" stroke-width="1.15" />
<path d="M198,315 L391,388 Q394,389 394,392.5 L394,430 L385.4,433 L383,430 L382,404 L191,330 Q187.6,326 188.6,320 Q190.5,314 198,315 Z" fill="#fff" stroke="#000" stroke-width="1.49" stroke-linejoin="round" stroke-linecap="round" />
<path d="M189,322 L383,395.6 L383,430" fill="none" stroke="#000" stroke-width="1.26" stroke-linejoin="round" stroke-linecap="round" />
<path d="M383,395.6 Q386,390 391,388" fill="none" stroke="#000" stroke-width="1.15" stroke-linejoin="round" stroke-linecap="round" />
<rect x="383.6" y="405" width="3.4" height="23.5" fill="#fff" stroke="#000" stroke-width="1"/>
<path d="M189,322 Q192,318 198,315" fill="none" stroke="#000" stroke-width="1.03" stroke-linejoin="round" stroke-linecap="round" />
<polygon points="192.0,375.0 386.5,447.0 386.2,452.0 384.0,456.4 190.6,383.4 190.6,378.6" fill="#fff" stroke="#000" stroke-width="1.38" stroke-linejoin="round" />
<line x1="190.6" y1="378.8" x2="386.0" y2="451.0" stroke="#000" stroke-width="1.26" />
<path d="M256,397.2 L322,421.6 L323.4,424.6 M346,430.6 L380,443.2" fill="none" stroke="#000" stroke-width="1.26" stroke-linejoin="round" stroke-linecap="round" />
<line x1="192.0" y1="375.0" x2="190.6" y2="378.6" stroke="#000" stroke-width="1.26" />
<polygon points="202.5,438.0 389.0,509.0 396.0,517.0 396.0,543.0 388.0,547.0 190.5,469.3 190.5,444.4" fill="#fff" stroke="#000" stroke-width="1.49" stroke-linejoin="round" />
<line x1="190.5" y1="444.4" x2="386.0" y2="521.0" stroke="#000" stroke-width="1.38" />
<line x1="207.0" y1="445.5" x2="386.0" y2="517.0" stroke="#000" stroke-width="1.15" />
<line x1="386.0" y1="517.0" x2="396.0" y2="517.0" stroke="#000" stroke-width="1.26" />
<line x1="386.0" y1="517.0" x2="388.0" y2="547.0" stroke="#000" stroke-width="1.26" />
<line x1="232.0" y1="450.8" x2="374.0" y2="505.0" stroke="#000" stroke-width="1.55" stroke-dasharray="2.2,1.2"/>
<polyline points="198.4,441.5 198.4,466.0 206.4,469.0 206.4,444.5" fill="none" stroke="#000" stroke-width="1.26" stroke-linejoin="round" stroke-dasharray="2.6,1.4"/>
<line x1="202.4" y1="443.0" x2="202.4" y2="467.5" stroke="#000" stroke-width="1.03" stroke-dasharray="2,2"/>
<circle cx="392" cy="526" r="0.8" fill="#000"/><circle cx="392" cy="538" r="0.8" fill="#000"/>
<ellipse cx="229.3" cy="432.8" rx="4" ry="2.8" fill="#111"/>
<rect x="219.4" y="437" width="7" height="3.8" fill="#111" transform="rotate(18 222.8 438.8)"/>
<polygon points="397.7,445.8 420.0,435.4 420.0,520.0 405.6,527.6 397.7,526.0" fill="#fff" stroke="#000" stroke-width="1.26" stroke-linejoin="round" />
<polygon points="397.7,445.8 420.0,435.4 420.0,440.6 400.2,450.2" fill="url(#mesh2)" stroke="#000" stroke-width="0.92" stroke-linejoin="round" />
<polygon points="400.6,450.4 404.6,448.6 404.6,525.6 400.6,524.6" fill="url(#mesh2)" stroke="#000" stroke-width="0.8" stroke-linejoin="round" />
<line x1="400.2" y1="449.6" x2="400.2" y2="526.0" stroke="#000" stroke-width="1.03" />
<line x1="405.6" y1="448.4" x2="405.6" y2="527.6" stroke="#000" stroke-width="1.15" />
<polygon points="407.4,450.6 427.0,442.6 427.0,525.0 407.4,531.4" fill="#fff" stroke="#000" stroke-width="1.26" stroke-linejoin="round" />
<polygon points="409.6,453.6 426.4,446.8 426.4,523.6 409.6,529.0" fill="url(#mesh2)" stroke="#000" stroke-width="0.8" stroke-linejoin="round" />
<polygon points="416.0,451.0 426.4,446.8 426.4,523.6 416.0,527.0" fill="#777" stroke="#000" stroke-width="0.0" stroke-linejoin="round" opacity="0.5"/>
<polygon points="407.4,450.6 427.0,442.6 427.0,446.4 409.6,453.6" fill="url(#mesh2)" stroke="#000" stroke-width="0.92" stroke-linejoin="round" />
<line x1="407.4" y1="450.6" x2="407.4" y2="531.4" stroke="#000" stroke-width="1.49" />
<line x1="409.6" y1="452.8" x2="409.6" y2="530.6" stroke="#000" stroke-width="1.03" />
<polygon points="415.0,530.0 423.0,527.4 423.0,536.4 415.0,538.6" fill="#fff" stroke="#000" stroke-width="1.03" stroke-linejoin="round" />
<line x1="419.2" y1="528.8" x2="419.2" y2="537.6" stroke="#000" stroke-width="0.92" />
<polygon points="420.0,408.0 522.7,355.7 530.8,358.0 531.0,362.0 427.0,410.6" fill="#fff" stroke="#000" stroke-width="1.26" stroke-linejoin="round" />
<polygon points="420.0,408.0 427.0,410.6 427.0,448.0 420.0,446.0" fill="#fff" stroke="#000" stroke-width="1.26" stroke-linejoin="round" />
<polygon points="427.0,410.6 531.0,361.0 531.6,514.0 430.5,563.0 430.5,448.0 427.0,448.0" fill="#fff" stroke="#000" stroke-width="1.26" stroke-linejoin="round" />
<rect x="428.8" y="448" width="4.2" height="115" fill="#999"/>
<line x1="430.5" y1="448.0" x2="430.5" y2="563.5" stroke="#000" stroke-width="1.38" />
<line x1="434.0" y1="450.0" x2="434.0" y2="561.0" stroke="#000" stroke-width="0.92" />
<line x1="264.0" y1="300.0" x2="243.0" y2="324.5" stroke="#000" stroke-width="1.15" />
<line x1="285.4" y1="308.6" x2="253.0" y2="329.5" stroke="#000" stroke-width="1.15" />
<circle cx="243.4" cy="324" r="1.3" fill="#000"/><circle cx="253.4" cy="329" r="1.3" fill="#000"/>
<line x1="301.0" y1="329.0" x2="289.4" y2="346.4" stroke="#000" stroke-width="1.15" />
<polygon points="289.4,346.4 290.1,342.6 292.6,344.2" fill="#000"/>
<line x1="288.8" y1="393.0" x2="275.4" y2="404.0" stroke="#000" stroke-width="1.15" />
<polygon points="275.4,404.0 277.2,400.6 279.1,402.9" fill="#000"/>
<line x1="267.0" y1="434.0" x2="232.0" y2="433.2" stroke="#000" stroke-width="1.15" />
<line x1="248.4" y1="444.4" x2="225.0" y2="439.8" stroke="#000" stroke-width="1.15" />
<line x1="299.2" y1="458.0" x2="292.3" y2="466.6" stroke="#000" stroke-width="1.15" />
<polygon points="292.3,466.6 293.4,462.9 295.7,464.7" fill="#000"/>
<line x1="445.8" y1="375.6" x2="454.2" y2="388.2" stroke="#000" stroke-width="1.15" />
<polygon points="454.2,388.2 451.0,386.0 453.5,384.4" fill="#000"/>
<line x1="178.2" y1="264.8" x2="171.4" y2="286.6" stroke="#000" stroke-width="1.15" />
<polygon points="171.4,286.6 171.0,282.7 173.9,283.6" fill="#000"/>
<line x1="401.7" y1="556.8" x2="413.0" y2="539.8" stroke="#000" stroke-width="1.15" />
<polygon points="413.0,539.8 412.3,543.6 409.8,542.0" fill="#000"/>
<line x1="401.7" y1="556.8" x2="424.3" y2="543.2" stroke="#000" stroke-width="1.15" />
<polygon points="424.3,543.2 422.0,546.3 420.4,543.8" fill="#000"/>
<ellipse cx="158" cy="520.6" rx="35.2" ry="16.5" fill="none" stroke="#000" stroke-width="1.0" transform="rotate(3 158 520.6)"/>
<ellipse cx="158" cy="521.0" rx="33.7" ry="15.4" fill="none" stroke="#000" stroke-width="1.0" transform="rotate(3 158 520.6)"/>
<ellipse cx="158" cy="521.4" rx="32.2" ry="14.2" fill="none" stroke="#000" stroke-width="1.0" transform="rotate(3 158 520.6)"/>
<path d="M117,508 L124,522" fill="none" stroke="#000" stroke-width="2.53" stroke-linejoin="round" stroke-linecap="round" />
<path d="M124,522 Q130,532 148,537" fill="none" stroke="#000" stroke-width="1.15" stroke-linejoin="round" stroke-linecap="round" />
<path d="M148,537 L174,543.5" fill="none" stroke="#000" stroke-width="2.76" stroke-linejoin="round" stroke-linecap="round" />
<line x1="171.0" y1="541.0" x2="175.0" y2="545.5" stroke="#000" stroke-width="1.38" />
<ellipse cx="181" cy="562.6" rx="35.6" ry="16.0" fill="none" stroke="#000" stroke-width="1.0" transform="rotate(3 181 562.6)"/>
<ellipse cx="181" cy="563.0" rx="34.1" ry="14.9" fill="none" stroke="#000" stroke-width="1.0" transform="rotate(3 181 562.6)"/>
<ellipse cx="181" cy="563.4" rx="32.6" ry="13.8" fill="none" stroke="#000" stroke-width="1.0" transform="rotate(3 181 562.6)"/>
<path d="M139,551 L146,565" fill="none" stroke="#000" stroke-width="2.53" stroke-linejoin="round" stroke-linecap="round" />
<path d="M166,577 L198,585" fill="none" stroke="#000" stroke-width="2.76" stroke-linejoin="round" stroke-linecap="round" />
<line x1="195.0" y1="582.0" x2="199.0" y2="587.0" stroke="#000" stroke-width="1.38" />
<ellipse cx="223" cy="521.8" rx="17.0" ry="8.6" fill="none" stroke="#000" stroke-width="1.0" transform="rotate(4 223 521.8)"/>
<ellipse cx="223" cy="522.1" rx="15.6" ry="7.5" fill="none" stroke="#000" stroke-width="1.0" transform="rotate(4 223 521.8)"/>
<ellipse cx="223" cy="522.5" rx="14.2" ry="6.5" fill="none" stroke="#000" stroke-width="1.0" transform="rotate(4 223 521.8)"/>
<path d="M202,516 L208,527" fill="none" stroke="#000" stroke-width="2.3" stroke-linejoin="round" stroke-linecap="round" />
<path d="M226,531 L238,534" fill="none" stroke="#000" stroke-width="2.53" stroke-linejoin="round" stroke-linecap="round" />
<ellipse cx="214" cy="545.0" rx="11.4" ry="5.8" fill="none" stroke="#000" stroke-width="1.0" transform="rotate(4 214 545)"/>
<ellipse cx="214" cy="545.4" rx="9.8" ry="4.6" fill="none" stroke="#000" stroke-width="1.0" transform="rotate(4 214 545)"/>
<ellipse cx="241" cy="555.0" rx="11.4" ry="5.8" fill="none" stroke="#000" stroke-width="1.0" transform="rotate(4 241 555)"/>
<ellipse cx="241" cy="555.4" rx="9.8" ry="4.6" fill="none" stroke="#000" stroke-width="1.0" transform="rotate(4 241 555)"/>
<ellipse cx="267" cy="564.0" rx="11.2" ry="5.8" fill="none" stroke="#000" stroke-width="1.0" transform="rotate(4 267 564)"/>
<ellipse cx="267" cy="564.4" rx="9.6" ry="4.6" fill="none" stroke="#000" stroke-width="1.0" transform="rotate(4 267 564)"/>
<path d="M207,537 L212,539.5" fill="none" stroke="#000" stroke-width="2.3" stroke-linejoin="round" stroke-linecap="round" />
<path d="M224,541 L232,548" fill="none" stroke="#000" stroke-width="1.38" stroke-linejoin="round" stroke-linecap="round" />
<path d="M232,548 L240,549.6" fill="none" stroke="#000" stroke-width="2.3" stroke-linejoin="round" stroke-linecap="round" />
<path d="M251,551.6 L259,557" fill="none" stroke="#000" stroke-width="1.38" stroke-linejoin="round" stroke-linecap="round" />
<path d="M259,557 L270,558.6" fill="none" stroke="#000" stroke-width="2.07" stroke-linejoin="round" stroke-linecap="round" />
<path d="M277,562 L285,568" fill="none" stroke="#000" stroke-width="1.84" stroke-linejoin="round" stroke-linecap="round" />
<line x1="133.0" y1="494.0" x2="138.0" y2="506.5" stroke="#000" stroke-width="1.15" />
<polygon points="138.0,506.5 135.3,503.7 138.1,502.6" fill="#000"/>
<line x1="258.0" y1="544.0" x2="250.0" y2="551.0" stroke="#000" stroke-width="1.15" />
<polygon points="250.0,551.0 251.7,547.5 253.7,549.8" fill="#000"/>
<g class="gs">
<ellipse cx="337.8" cy="47" rx="11.3" ry="6.3" fill="#fff" stroke="#000" stroke-width="1.3"/>
<text x="337.8" y="50.7" text-anchor="middle" textLength="16.3" lengthAdjust="spacingAndGlyphs" class="lb">216</text>
<ellipse cx="431" cy="46.8" rx="11.3" ry="6.3" fill="#fff" stroke="#000" stroke-width="1.3"/>
<text x="431" y="50.5" text-anchor="middle" textLength="16.3" lengthAdjust="spacingAndGlyphs" class="lb">217</text>
<ellipse cx="501.2" cy="60" rx="11.3" ry="6.3" fill="#fff" stroke="#000" stroke-width="1.3"/>
<text x="501.2" y="63.7" text-anchor="middle" textLength="16.3" lengthAdjust="spacingAndGlyphs" class="lb">216</text>
<ellipse cx="435.2" cy="80.6" rx="11.3" ry="6.3" fill="#fff" stroke="#000" stroke-width="1.3"/>
<text x="435.2" y="84.3" text-anchor="middle" textLength="16.3" lengthAdjust="spacingAndGlyphs" class="lb">214</text>
<ellipse cx="382.6" cy="115.5" rx="12.0" ry="7.1" fill="#fff" stroke="#000" stroke-width="1.3"/>
<text x="382.6" y="119.2" text-anchor="middle" textLength="21.6" lengthAdjust="spacingAndGlyphs" class="lb">222A</text>
<ellipse cx="412.7" cy="113" rx="11.3" ry="6.3" fill="#fff" stroke="#000" stroke-width="1.3"/>
<text x="412.7" y="116.7" text-anchor="middle" textLength="16.3" lengthAdjust="spacingAndGlyphs" class="lb">218</text>
<ellipse cx="503" cy="116" rx="12.0" ry="7.1" fill="#fff" stroke="#000" stroke-width="1.3"/>
<text x="503" y="119.7" text-anchor="middle" textLength="21.6" lengthAdjust="spacingAndGlyphs" class="lb">222A</text>
<ellipse cx="502" cy="139.6" rx="11.3" ry="6.3" fill="#fff" stroke="#000" stroke-width="1.3"/>
<text x="502" y="143.29999999999998" text-anchor="middle" textLength="16.3" lengthAdjust="spacingAndGlyphs" class="lb">213</text>
<ellipse cx="486.8" cy="157.7" rx="11.3" ry="6.3" fill="#fff" stroke="#000" stroke-width="1.3"/>
<text x="486.8" y="161.39999999999998" text-anchor="middle" textLength="16.3" lengthAdjust="spacingAndGlyphs" class="lb">212</text>
<ellipse cx="461.5" cy="170" rx="11.3" ry="6.3" fill="#fff" stroke="#000" stroke-width="1.3"/>
<text x="461.5" y="173.7" text-anchor="middle" textLength="16.3" lengthAdjust="spacingAndGlyphs" class="lb">211</text>
<ellipse cx="412" cy="201.8" rx="11.3" ry="6.3" fill="#fff" stroke="#000" stroke-width="1.3"/>
<text x="412" y="205.5" text-anchor="middle" textLength="16.3" lengthAdjust="spacingAndGlyphs" class="lb">210</text>
<ellipse cx="356.2" cy="214.6" rx="11.3" ry="6.3" fill="#fff" stroke="#000" stroke-width="1.3"/>
<text x="356.2" y="218.29999999999998" text-anchor="middle" textLength="16.3" lengthAdjust="spacingAndGlyphs" class="lb">209</text>
<ellipse cx="240.5" cy="54" rx="12.0" ry="7.1" fill="#fff" stroke="#000" stroke-width="1.3"/>
<text x="240.5" y="57.7" text-anchor="middle" textLength="21.6" lengthAdjust="spacingAndGlyphs" class="lb">202A</text>
<ellipse cx="266.3" cy="53.3" rx="11.3" ry="6.3" fill="#fff" stroke="#000" stroke-width="1.3"/>
<text x="266.3" y="57.0" text-anchor="middle" textLength="16.3" lengthAdjust="spacingAndGlyphs" class="lb">202</text>
<ellipse cx="186" cy="77.5" rx="12.0" ry="7.1" fill="#fff" stroke="#000" stroke-width="1.3"/>
<text x="186" y="81.2" text-anchor="middle" textLength="21.6" lengthAdjust="spacingAndGlyphs" class="lb">201A</text>
<ellipse cx="212" cy="77.5" rx="11.3" ry="6.3" fill="#fff" stroke="#000" stroke-width="1.3"/>
<text x="212" y="81.2" text-anchor="middle" textLength="16.3" lengthAdjust="spacingAndGlyphs" class="lb">201</text>
<ellipse cx="127.6" cy="102.6" rx="12.0" ry="7.1" fill="#fff" stroke="#000" stroke-width="1.3"/>
<text x="127.6" y="106.3" text-anchor="middle" textLength="21.6" lengthAdjust="spacingAndGlyphs" class="lb">200A</text>
<ellipse cx="153.7" cy="102.6" rx="11.3" ry="6.3" fill="#fff" stroke="#000" stroke-width="1.3"/>
<text x="153.7" y="106.3" text-anchor="middle" textLength="16.3" lengthAdjust="spacingAndGlyphs" class="lb">200</text>
<ellipse cx="116" cy="134.3" rx="11.3" ry="6.3" fill="#fff" stroke="#000" stroke-width="1.3"/>
<text x="116" y="138.0" text-anchor="middle" textLength="16.3" lengthAdjust="spacingAndGlyphs" class="lb">203</text>
<ellipse cx="127.5" cy="209" rx="11.3" ry="6.3" fill="#fff" stroke="#000" stroke-width="1.3"/>
<text x="127.5" y="212.7" text-anchor="middle" textLength="16.3" lengthAdjust="spacingAndGlyphs" class="lb">205</text>
<ellipse cx="157" cy="219.6" rx="11.3" ry="6.3" fill="#fff" stroke="#000" stroke-width="1.3"/>
<text x="157" y="223.29999999999998" text-anchor="middle" textLength="16.3" lengthAdjust="spacingAndGlyphs" class="lb">206</text>
<ellipse cx="187" cy="229" rx="11.3" ry="6.3" fill="#fff" stroke="#000" stroke-width="1.3"/>
<text x="187" y="232.7" text-anchor="middle" textLength="16.3" lengthAdjust="spacingAndGlyphs" class="lb">207</text>
<ellipse cx="287.8" cy="243" rx="11.3" ry="6.3" fill="#fff" stroke="#000" stroke-width="1.3"/>
<text x="287.8" y="246.7" text-anchor="middle" textLength="16.3" lengthAdjust="spacingAndGlyphs" class="lb">204</text>
<ellipse cx="273.6" cy="258.3" rx="11.3" ry="6.3" fill="#fff" stroke="#000" stroke-width="1.3"/>
<text x="273.6" y="262.0" text-anchor="middle" textLength="16.3" lengthAdjust="spacingAndGlyphs" class="lb">208</text>
<ellipse cx="179.4" cy="258.4" rx="11.3" ry="6.3" fill="#fff" stroke="#000" stroke-width="1.3"/>
<text x="179.4" y="262.09999999999997" text-anchor="middle" textLength="16.3" lengthAdjust="spacingAndGlyphs" class="lb">191</text>
<ellipse cx="268" cy="294.4" rx="11.3" ry="6.3" fill="#fff" stroke="#000" stroke-width="1.3"/>
<text x="268" y="298.09999999999997" text-anchor="middle" textLength="16.3" lengthAdjust="spacingAndGlyphs" class="lb">193</text>
<ellipse cx="291.8" cy="302.4" rx="11.3" ry="6.3" fill="#fff" stroke="#000" stroke-width="1.3"/>
<text x="291.8" y="306.09999999999997" text-anchor="middle" textLength="16.3" lengthAdjust="spacingAndGlyphs" class="lb">194</text>
<ellipse cx="303.5" cy="322" rx="11.3" ry="6.3" fill="#fff" stroke="#000" stroke-width="1.3"/>
<text x="303.5" y="325.7" text-anchor="middle" textLength="16.3" lengthAdjust="spacingAndGlyphs" class="lb">195</text>
<ellipse cx="297" cy="387" rx="11.3" ry="6.3" fill="#fff" stroke="#000" stroke-width="1.3"/>
<text x="297" y="390.7" text-anchor="middle" textLength="16.3" lengthAdjust="spacingAndGlyphs" class="lb">196</text>
<ellipse cx="278.2" cy="435.2" rx="11.3" ry="6.3" fill="#fff" stroke="#000" stroke-width="1.3"/>
<text x="278.2" y="438.9" text-anchor="middle" textLength="16.3" lengthAdjust="spacingAndGlyphs" class="lb">198</text>
<ellipse cx="259" cy="446.3" rx="11.3" ry="6.3" fill="#fff" stroke="#000" stroke-width="1.3"/>
<text x="259" y="450.0" text-anchor="middle" textLength="16.3" lengthAdjust="spacingAndGlyphs" class="lb">199</text>
<ellipse cx="303.6" cy="451" rx="11.3" ry="6.3" fill="#fff" stroke="#000" stroke-width="1.3"/>
<text x="303.6" y="454.7" text-anchor="middle" textLength="16.3" lengthAdjust="spacingAndGlyphs" class="lb">197</text>
<ellipse cx="441" cy="369.6" rx="11.3" ry="6.3" fill="#fff" stroke="#000" stroke-width="1.3"/>
<text x="441" y="373.3" text-anchor="middle" textLength="16.3" lengthAdjust="spacingAndGlyphs" class="lb">192</text>
<ellipse cx="413.6" cy="307" rx="11.3" ry="6.3" fill="#fff" stroke="#000" stroke-width="1.3"/>
<text x="413.6" y="310.7" text-anchor="middle" textLength="16.3" lengthAdjust="spacingAndGlyphs" class="lb">221</text>
<ellipse cx="413.6" cy="327.3" rx="11.3" ry="6.3" fill="#fff" stroke="#000" stroke-width="1.3"/>
<text x="413.6" y="331.0" text-anchor="middle" textLength="16.3" lengthAdjust="spacingAndGlyphs" class="lb">222</text>
<ellipse cx="515.8" cy="266" rx="11.3" ry="6.3" fill="#fff" stroke="#000" stroke-width="1.3"/>
<text x="515.8" y="269.7" text-anchor="middle" textLength="16.3" lengthAdjust="spacingAndGlyphs" class="lb">219</text>
<ellipse cx="508" cy="285" rx="11.3" ry="6.3" fill="#fff" stroke="#000" stroke-width="1.3"/>
<text x="508" y="288.7" text-anchor="middle" textLength="16.3" lengthAdjust="spacingAndGlyphs" class="lb">220</text>
<ellipse cx="396.7" cy="565" rx="11.3" ry="6.3" fill="#fff" stroke="#000" stroke-width="1.3"/>
<text x="396.7" y="568.7" text-anchor="middle" textLength="16.3" lengthAdjust="spacingAndGlyphs" class="lb">193</text>
<ellipse cx="128" cy="487.6" rx="11.3" ry="6.3" fill="#fff" stroke="#000" stroke-width="1.3"/>
<text x="128" y="491.3" text-anchor="middle" textLength="16.3" lengthAdjust="spacingAndGlyphs" class="lb">190</text>
<ellipse cx="267" cy="538" rx="12.0" ry="7.1" fill="#fff" stroke="#000" stroke-width="1.3"/>
<text x="267" y="541.7" text-anchor="middle" textLength="21.6" lengthAdjust="spacingAndGlyphs" class="lb">190A</text>
<ellipse cx="497.8" cy="170.6" rx="12.6" ry="7.1" fill="#fff" stroke="#000" stroke-width="1.3"/>
<text x="497.8" y="174.29999999999998" text-anchor="middle" textLength="21.6" lengthAdjust="spacingAndGlyphs" class="lb">212A</text>
</g>
</svg>
</body></html>
